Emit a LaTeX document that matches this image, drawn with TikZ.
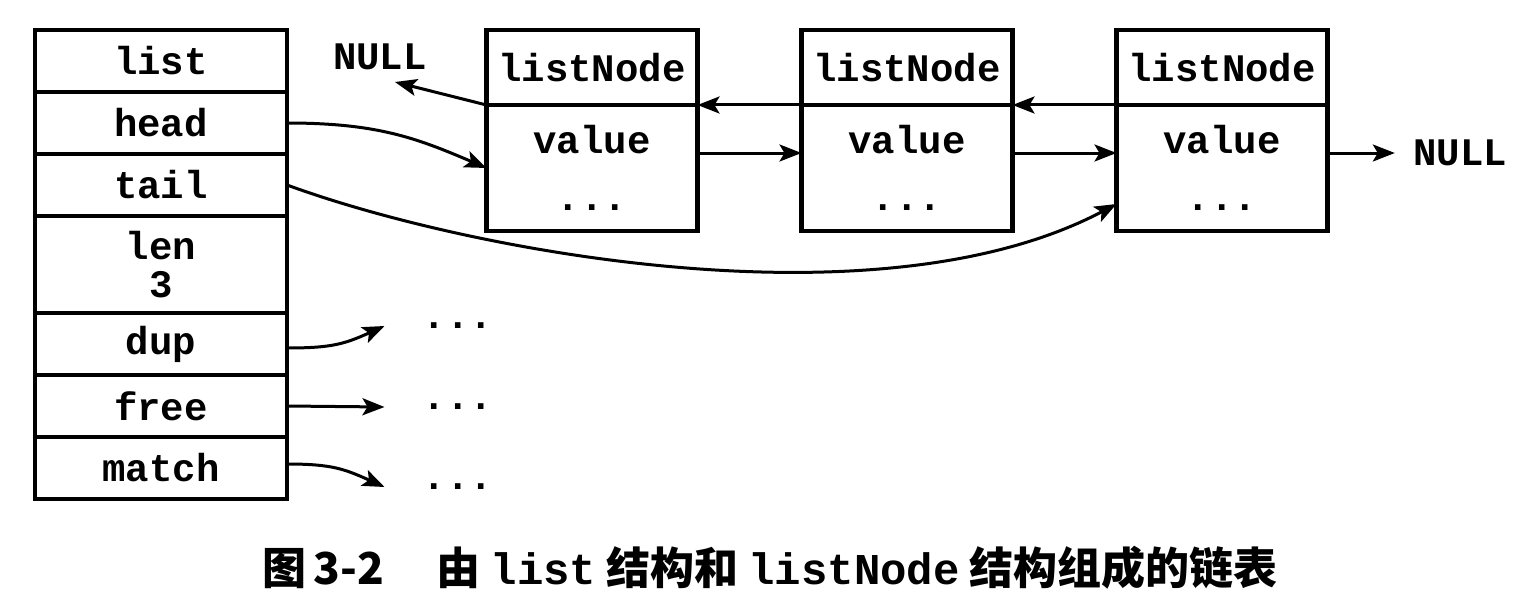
\documentclass[tikz,border=0pt]{standalone}
\usepackage{fontspec}
\setmonofont{Liberation Mono}
\newfontfamily\cjk{Noto Sans CJK SC}
\usetikzlibrary{positioning,arrows.meta}

\tikzset{
  field/.style={draw, line width=2.2pt, minimum width=126pt, minimum height=31pt,
    inner sep=0pt, outer sep=0pt, align=center,
    font=\ttfamily\bfseries\fontsize{19.5}{19}\selectfont},
  nodehead/.style={field, minimum width=105.5pt, minimum height=37.5pt},
  nodebody/.style={field, minimum width=105.5pt, minimum height=63pt,
    font=\ttfamily\bfseries\fontsize{19.5}{28.5}\selectfont},
  txt/.style={font=\ttfamily\bfseries\fontsize{19.5}{19}\selectfont, inner sep=0pt},
  dots/.style={txt, inner xsep=19pt},
  ptr/.style={->, line width=1.5pt},
}

\begin{document}
\begin{tikzpicture}[x=0.5pt, y=-0.5pt, >={Stealth[length=11pt,width=8.5pt,inset=2.5pt]}]
\useasboundingbox (0,0) rectangle (1540,610);

% list structure
\node[field] (list) at (161,61) {list};
\node[field, below=0pt of list] (head) {head};
\node[field, below=0pt of head] (tail) {tail};
\node[field, below=0pt of tail, minimum height=48.5pt] (len) {len\\3};
\node[field, below=0pt of len] (dup) {dup};
\node[field, below=0pt of dup] (free) {free};
\node[field, below=0pt of free] (match) {match};

% listNode structures
\foreach \i/\x in {1/592, 2/907, 3/1222} {
  \node[nodehead] (h\i) at (\x,67.5) {listNode};
  \node[nodebody, below=0pt of h\i] (b\i) {value\\...};
}

\node[txt] (nullL) at (380,57) {NULL};
\node[txt] (nullR) at (1460,153) {NULL};
\coordinate (nl) at (395,82);

\node[dots] (dot1) at (458,326) {...};
\node[dots] (dot2) at (458,407) {...};
\node[dots] (dot3) at (458,487) {...};

% prev / next pointers
\draw[ptr] (h1.south west) -- (nl);
\draw[ptr] (h2.south west) -- (h1.south east);
\draw[ptr] (h3.south west) -- (h2.south east);
\draw[ptr] ([yshift=7.5pt]b1.east) -- ([yshift=7.5pt]b2.west);
\draw[ptr] ([yshift=7.5pt]b2.east) -- ([yshift=7.5pt]b3.west);
\draw[ptr, shorten >=9pt] ([yshift=7.5pt]b3.east) -- (nullR.west);

% head and tail
\draw[ptr] (head.east) .. controls +(90,0) and +(-70,-30) .. (b1.west);
\draw[ptr] (tail.east) .. controls +(183,67) and +(-237,125) .. ([yshift=-18pt]b3.west);

% dup, free, match
\draw[ptr] ([yshift=-2pt]dup.east) .. controls +(45,0) and +(-40,18) .. (dot1.west);
\draw[ptr] (free.east) -- (dot2.west);
\draw[ptr] ([yshift=2pt]match.east) .. controls +(45,0) and +(-40,-18) .. (dot3.west);

\node[font=\cjk\bfseries\fontsize{22}{26}\selectfont] (cap) at (770,568)
  {图\,3-2\hspace{1.2em}由 {\ttfamily list} 结构和 {\ttfamily listNode} 结构组成的链表};

\end{tikzpicture}
\end{document}
